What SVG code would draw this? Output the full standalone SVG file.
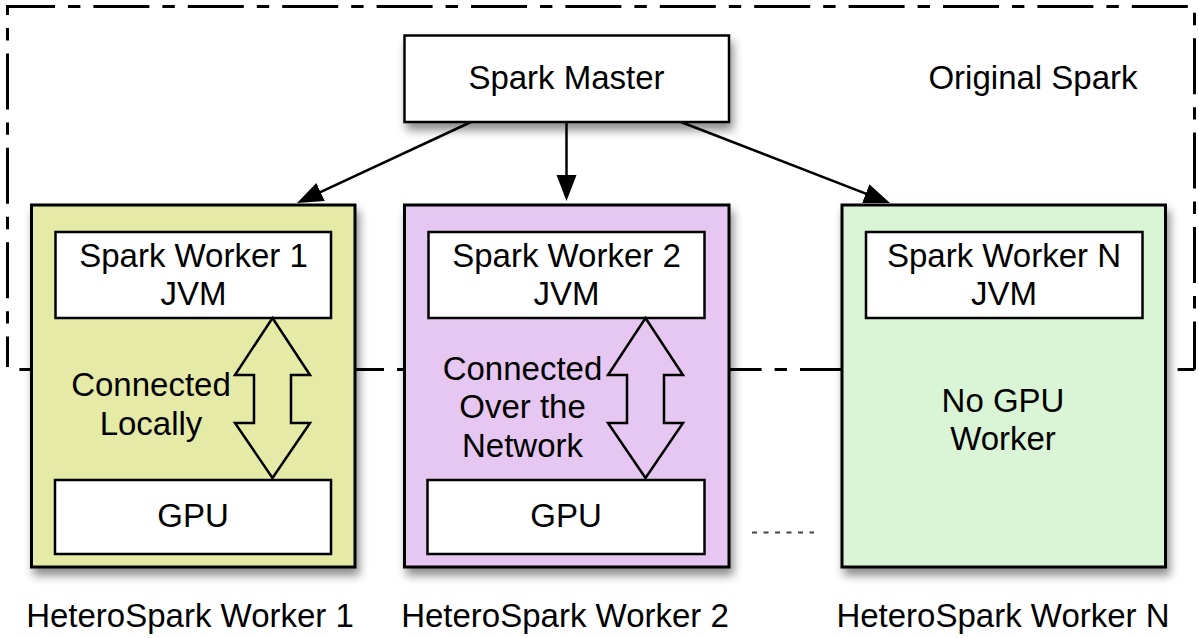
<svg xmlns="http://www.w3.org/2000/svg" width="1199" height="638" viewBox="0 0 1199 638">
<style>
  text { font-family: "Liberation Sans", Arial, Helvetica, sans-serif; font-size: 33px; fill: #000; text-anchor: middle; }
  .box { fill: #fff; stroke: #000; stroke-width: 2.5; }
  .outer { stroke: #000; stroke-width: 3; }
  .conn { stroke: #000; stroke-width: 2.5; fill: none; }
  .dbl { stroke: #000; stroke-width: 2.5; fill: none; stroke-linejoin: miter; }
  .bound { fill: none; stroke: #000; stroke-width: 3; stroke-dasharray: 56 13 12.4 13; }
</style>
<defs>
  <filter id="shadow" x="-20%" y="-20%" width="140%" height="150%">
    <feDropShadow dx="3" dy="7" stdDeviation="5" flood-color="#000" flood-opacity="0.45"/>
  </filter>
  <marker id="arrow" markerUnits="userSpaceOnUse" markerWidth="28" markerHeight="22" refX="18" refY="10" orient="auto">
    <path d="M0,0 L26,10 L0,20 z" fill="#000"/>
  </marker>
</defs>
<rect width="1199" height="638" fill="#fff"/>

<g id="original-spark">
  <path class="bound" d="M7.5,367 V6.5 H1194.5 V369.5" stroke-dashoffset="25.6"/>
  <path class="bound" d="M7.5,369.5 H1194.5" stroke-dashoffset="57.1"/>
  <text x="1033" y="89">Original Spark</text>
</g>

<g id="connectors">
  <line class="conn" x1="471" y1="122" x2="304.25" y2="199.62" marker-end="url(#arrow)"/>
  <line class="conn" x1="566.5" y1="122" x2="566.5" y2="193" marker-end="url(#arrow)"/>
  <line class="conn" x1="681" y1="122" x2="882.54" y2="200.11" marker-end="url(#arrow)"/>
</g>

<g id="spark-master">
  <rect class="box" x="404.5" y="35.5" width="324.5" height="86.5" filter="url(#shadow)"/>
  <text x="566.5" y="89">Spark Master</text>
</g>

<g id="worker1">
  <rect class="outer" x="31.5" y="205" width="323.5" height="362" fill="#e5eaa7" filter="url(#shadow)"/>
  <rect class="box" x="55.5" y="232" width="275.5" height="86"/>
  <text x="193.5" y="267">Spark Worker 1</text>
  <text x="193.5" y="305">JVM</text>
  <polygon class="dbl" points="272.5,318 310,375 291,375 291,423 310,423 272.5,478 235,423 254,423 254,375 235,375"/>
  <text x="151" y="396">Connected</text>
  <text x="151" y="435">Locally</text>
  <rect class="box" x="55" y="480" width="276" height="74"/>
  <text x="193" y="527">GPU</text>
  <text x="190" y="627">HeteroSpark Worker 1</text>
</g>

<g id="worker2">
  <rect class="outer" x="404.5" y="205" width="324.5" height="362" fill="#e5c7f1" filter="url(#shadow)"/>
  <rect class="box" x="428.5" y="232" width="276" height="86"/>
  <text x="566.5" y="267">Spark Worker 2</text>
  <text x="566.5" y="305">JVM</text>
  <polygon class="dbl" points="645.5,318 683,375 664,375 664,423 683,423 645.5,478 608,423 627,423 627,375 608,375"/>
  <text x="522.5" y="380">Connected</text>
  <text x="522.5" y="418">Over the</text>
  <text x="522.5" y="457">Network</text>
  <rect class="box" x="427.5" y="480" width="277" height="74"/>
  <text x="566" y="527">GPU</text>
  <text x="565" y="627">HeteroSpark Worker 2</text>
</g>

<g id="ellipsis">
  <line x1="752" y1="532.5" x2="814" y2="532.5" stroke="#444" stroke-width="2" stroke-dasharray="5 6.5"/>
</g>

<g id="workerN">
  <rect class="outer" x="842" y="205" width="323.5" height="362" fill="#daf4d6" filter="url(#shadow)"/>
  <rect class="box" x="866" y="232" width="276.5" height="86"/>
  <text x="1004" y="267">Spark Worker N</text>
  <text x="1004" y="305">JVM</text>
  <text x="1003" y="412">No GPU</text>
  <text x="1003" y="450">Worker</text>
  <text x="1003" y="627">HeteroSpark Worker N</text>
</g>
</svg>
